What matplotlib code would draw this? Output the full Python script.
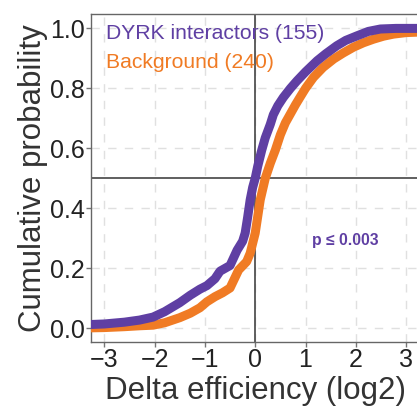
import numpy as np
import matplotlib.pyplot as plt

plt.rcParams['font.family'] = ['Liberation Sans', 'DejaVu Sans']

# cumulative curves (x = delta efficiency, y = cumulative probability)
dyrk_x = [-3.3, -3.0, -2.6, -2.3, -2.03, -1.8, -1.5, -1.29, -1.1, -0.96, -0.8, -0.7, -0.5,
          -0.36, -0.25, -0.2, -0.15, -0.1, -0.05, 0.0, 0.05, 0.13, 0.2, 0.3, 0.36, 0.45,
          0.56, 0.7, 0.83, 1.0, 1.23, 1.4, 1.62, 1.8, 2.02, 2.25, 2.49, 2.8, 3.3]
dyrk_y = [0.012, 0.014, 0.02, 0.027, 0.037, 0.055, 0.085, 0.11, 0.13, 0.142, 0.165, 0.19, 0.209,
          0.26, 0.29, 0.317, 0.37, 0.428, 0.47, 0.5, 0.54, 0.594, 0.635, 0.68, 0.712, 0.742,
          0.77, 0.8, 0.825, 0.855, 0.892, 0.915, 0.942, 0.96, 0.975, 0.99, 0.998, 1.0, 1.0]

bg_x = [-3.3, -3.0, -2.6, -2.3, -2.03, -1.8, -1.5, -1.29, -1.1, -0.96, -0.8, -0.65, -0.5,
        -0.33, -0.17, -0.1, 0.0, 0.1, 0.2, 0.3, 0.4, 0.5, 0.6, 0.7, 0.8, 0.89, 1.0,
        1.16, 1.35, 1.56, 1.75, 1.95, 2.15, 2.35, 2.55, 2.75, 3.0, 3.3]
bg_y = [0.001, 0.002, 0.005, 0.008, 0.01, 0.018, 0.035, 0.05, 0.068, 0.088, 0.105, 0.118, 0.134,
        0.194, 0.222, 0.25, 0.317, 0.428, 0.5, 0.55, 0.594, 0.645, 0.685, 0.715, 0.745, 0.77, 0.8,
        0.837, 0.87, 0.898, 0.918, 0.937, 0.952, 0.964, 0.974, 0.981, 0.986, 0.988]

purple = '#5f3fa3'
orange = '#f07b24'

fig = plt.figure(figsize=(4.17, 4.12), dpi=100)
ax = fig.add_axes([0.2175, 0.170, 0.789, 0.796])

ax.plot(bg_x, bg_y, color=orange, lw=6.5, solid_capstyle='butt', zorder=3)
ax.plot(dyrk_x, dyrk_y, color=purple, lw=6.5, solid_capstyle='butt', zorder=4)

ax.axhline(0.5, color='#444444', lw=1.2, zorder=2)
ax.axvline(0, color='#444444', lw=1.2, zorder=2)

ax.set_xlim(-3.27, 3.27)
ax.set_ylim(-0.046, 1.048)
ax.set_xticks([-3, -2, -1, 0, 1, 2, 3])
ax.set_yticks([0.0, 0.2, 0.4, 0.6, 0.8, 1.0])
ax.set_yticklabels(['0.0', '0.2', '0.4', '0.6', '0.8', '1.0'])
ax.grid(True, color='#e0e0e0', lw=1.0, ls=(0, (6, 6)), zorder=0)

for s in ['left', 'bottom', 'top']:
    ax.spines[s].set_color('#666666')
    ax.spines[s].set_linewidth(1.0)
ax.spines['right'].set_visible(False)
ax.tick_params(axis='both', labelsize=18, colors='#777777', labelcolor='#222222',
               length=3.5, width=1.0, pad=1)

ax.set_xlabel('Delta efficiency (log2)', fontsize=22.5, color='#333333', labelpad=3)
ax.set_ylabel('Cumulative probability', fontsize=22.5, color='#333333', labelpad=1)

ax.text(-2.96, 0.963, 'DYRK interactors (155)', color=purple, fontsize=15.2, va='baseline')
ax.text(-2.96, 0.867, 'Background (240)', color=orange, fontsize=15.2, va='baseline')
ax.text(1.13, 0.294, 'p \u2264 0.003', color=purple, fontsize=11.3, fontweight='bold', va='center')

fig.savefig('out.png', dpi=100)
